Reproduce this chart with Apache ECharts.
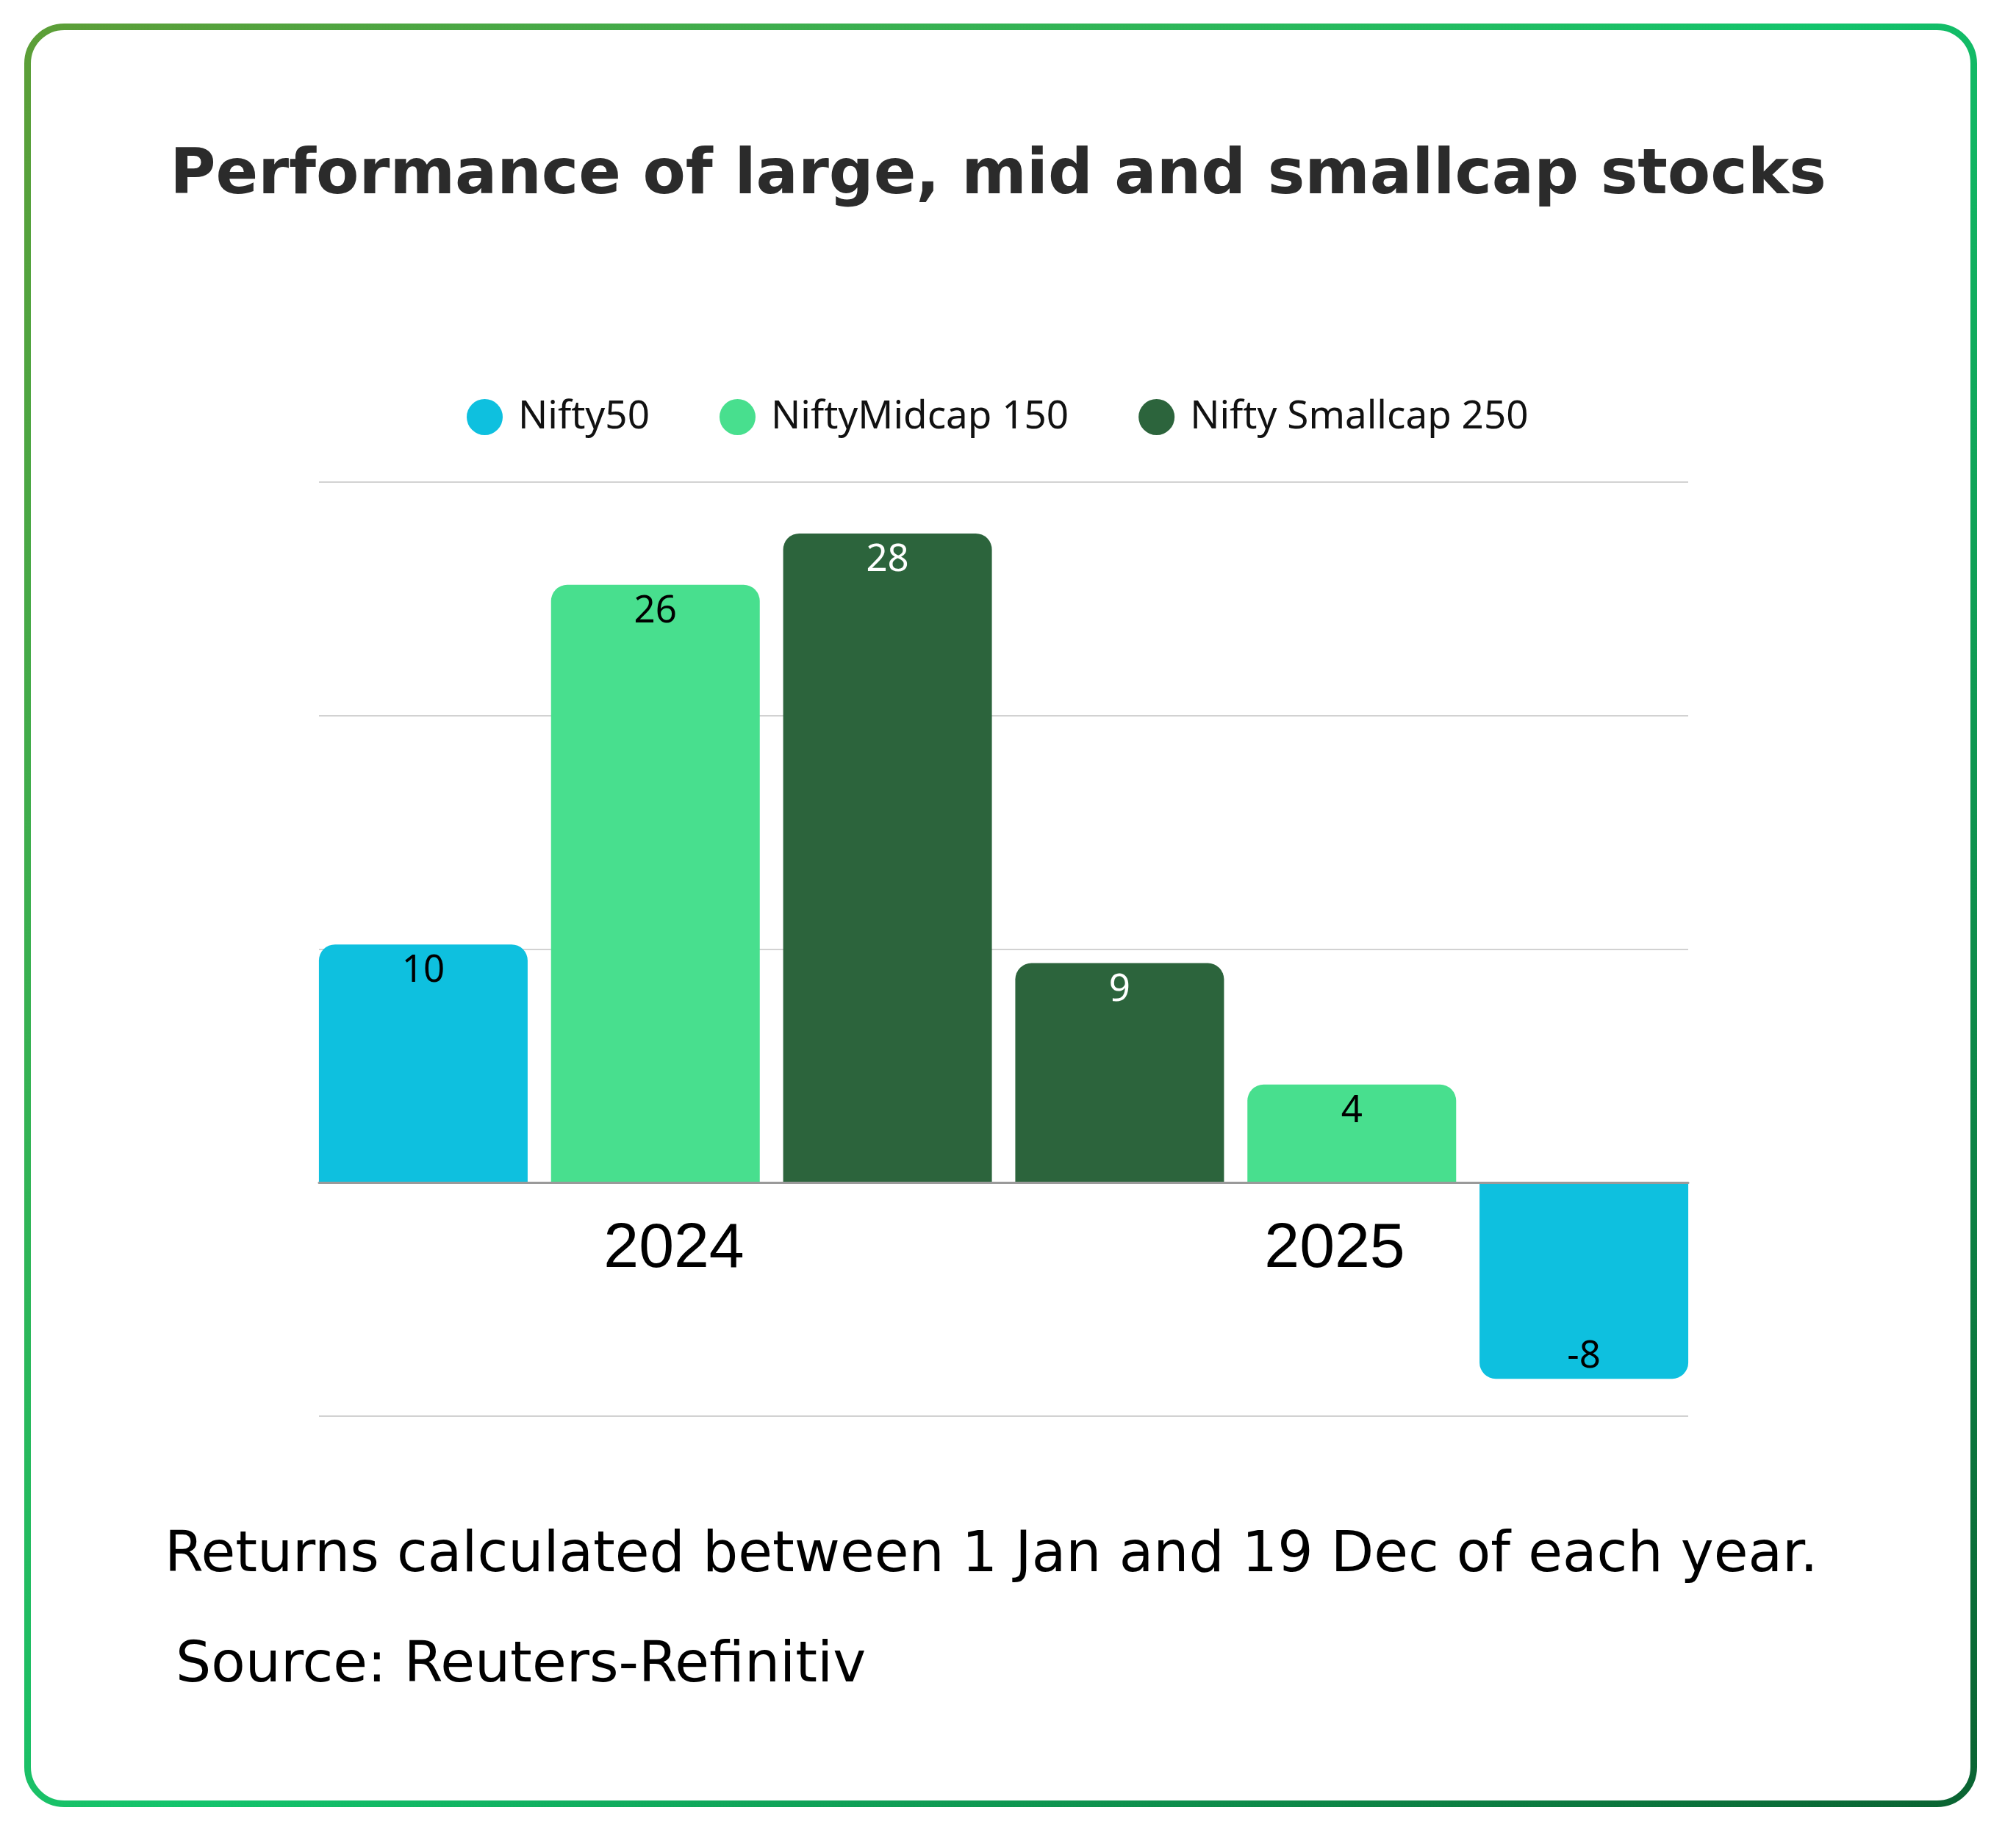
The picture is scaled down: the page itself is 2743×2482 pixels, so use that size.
<!DOCTYPE html>
<html>
<head>
<meta charset="utf-8">
<script src="https://cdn.jsdelivr.net/npm/echarts@6/dist/echarts.min.js"></script>
<style>
  html, body { margin: 0; padding: 0; background: #ffffff; }
  #chart { width: 2743px; height: 2482px; }
</style>
</head>
<body>
<div id="chart"></div>
<script>
// ---------- data ----------
const titleText = 'Performance of large, mid and smallcap stocks';
const noteText = 'Returns calculated between 1 Jan and 19 Dec of each year.';
const sourceText = 'Source: Reuters-Refinitiv';

const categories = ['2024', '2025'];
const seriesNames = ['Nifty50', 'NiftyMidcap 150', 'Nifty Smallcap 250'];
const nifty50 = [10.2, -8.4];
const niftyMidcap150 = [25.6, 4.2];
const niftySmallcap250 = [27.8, 9.4];
// bar order inside each year group, left to right
const order2024 = ['Nifty50', 'NiftyMidcap 150', 'Nifty Smallcap 250'];
const order2025 = ['Nifty Smallcap 250', 'NiftyMidcap 150', 'Nifty50'];
const yMin = -10, yMax = 30, yStep = 10;

// ---------- build ----------
const valuesByName = {
  'Nifty50': nifty50,
  'NiftyMidcap 150': niftyMidcap150,
  'Nifty Smallcap 250': niftySmallcap250
};
const orders = [order2024, order2025];
const colors = {
  'Nifty50': '#0ec0df',
  'NiftyMidcap 150': '#48df8e',
  'Nifty Smallcap 250': '#2c643c'
};
const labelColors = {
  'Nifty50': '#000000',
  'NiftyMidcap 150': '#000000',
  'Nifty Smallcap 250': '#ffffff'
};
const slots = [];
categories.forEach((c, i) => orders[i].forEach((n, j) => slots.push(c + '-' + j)));

const R = 22;
const series = seriesNames.map(name => {
  const data = slots.map(() => null);
  categories.forEach((c, i) => {
    const idx = orders[i].indexOf(name);
    const v = valuesByName[name][i];
    const item = { value: v };
    if (v < 0) {
      item.itemStyle = { borderRadius: [0, 0, R, R] };
      item.label = { position: 'insideBottom', distance: 4 };
    }
    data[i * 3 + idx] = item;
  });
  return {
    name: name,
    type: 'bar',
    xAxisIndex: 0,
    yAxisIndex: 0,
    barWidth: 284,
    barGap: '-100%',
    data: data,
    itemStyle: { color: colors[name], borderRadius: [R, R, 0, 0] },
    label: {
      show: true,
      position: 'insideTop',
      distance: 11,
      fontFamily: 'Noto Sans',
      fontSize: 51,
      color: labelColors[name],
      formatter: p => (p.value == null ? '' : String(Math.round(p.value)))
    },
    emphasis: { disabled: true },
    z: 2
  };
});

const gridTop = 656, gridHeight = 1271;
const zeroY = gridTop + gridHeight * (yMax - 0) / (yMax - yMin);
const chart = echarts.init(document.getElementById('chart'), null, { renderer: 'canvas' });

const yAxisBase = { type: 'value', min: yMin, max: yMax, interval: yStep,
  axisLabel: { show: false }, axisLine: { show: false }, axisTick: { show: false } };

chart.setOption({
  backgroundColor: '#ffffff',
  animation: false,
  color: seriesNames.map(n => colors[n]),
  legend: {
    data: seriesNames,
    icon: 'circle',
    left: 635,
    top: 541,
    itemWidth: 49,
    itemHeight: 49,
    itemGap: 95,
    padding: 0,
    textStyle: { fontFamily: 'Noto Sans', fontSize: 53, color: '#111111', padding: [0, 0, 0, 16] }
  },
  grid: [
    { left: 418, top: gridTop, width: 1895, height: gridHeight, outerBoundsMode: 'none', containLabel: false },
    { left: 434, top: gridTop, width: 1863, height: gridHeight, outerBoundsMode: 'none', containLabel: false },
    { left: 467.5, top: gridTop, width: 1798, height: zeroY - gridTop, outerBoundsMode: 'none', containLabel: false }
  ],
  xAxis: [
    { type: 'category', gridIndex: 0, data: slots, show: false },
    { type: 'category', gridIndex: 1, data: categories, z: 3,
      axisLine: { show: true, onZero: true, lineStyle: { color: '#9a9a9a', width: 3 } },
      axisTick: { show: false }, axisLabel: { show: false }, splitLine: { show: false } },
    { type: 'category', gridIndex: 2, data: categories, position: 'bottom',
      axisLine: { show: false, onZero: false },
      axisTick: { show: false }, splitLine: { show: false },
      axisLabel: { show: true, fontFamily: 'Liberation Sans', fontSize: 86, color: '#000000', margin: 48 } }
  ],
  yAxis: [
    Object.assign({ gridIndex: 0, splitLine: { show: false }, show: false }, yAxisBase),
    Object.assign({ gridIndex: 1, z: 0, splitLine: { show: true, lineStyle: { color: '#d2d2d2', width: 2 } } }, yAxisBase),
    { type: 'value', gridIndex: 2, min: 0, max: yMax, show: false, splitLine: { show: false } }
  ],
  series: series,
  graphic: [
    { type: 'rect', z: -10, silent: true,
      shape: { x: 37.5, y: 36.5, width: 2648, height: 2418, r: 50 },
      style: { fill: null, lineWidth: 9,
        stroke: new echarts.graphic.LinearGradient(0, 0, 1, 1, [
          { offset: 0, color: '#5d9e37' },
          { offset: 0.5, color: '#13c46c' },
          { offset: 1, color: '#0a6332' }
        ]) } },
    { type: 'text', x: 1358, y: 241, silent: true,
      style: { text: titleText, fontFamily: 'DejaVu Sans', fontWeight: 'bold', fontSize: 85, fill: '#2b2b2b',
        align: 'center', verticalAlign: 'middle', textAlign: 'center', textVerticalAlign: 'middle' } },
    { type: 'text', x: 224, y: 2118, silent: true,
      style: { text: noteText, fontFamily: 'DejaVu Sans', fontWeight: 'normal', fontSize: 76, fill: '#000000',
        align: 'left', verticalAlign: 'middle', textAlign: 'left', textVerticalAlign: 'middle' } },
    { type: 'text', x: 239, y: 2268, silent: true,
      style: { text: sourceText, fontFamily: 'DejaVu Sans', fontWeight: 'normal', fontSize: 76, fill: '#000000',
        align: 'left', verticalAlign: 'middle', textAlign: 'left', textVerticalAlign: 'middle' } }
  ]
});
</script>
</body>
</html>
